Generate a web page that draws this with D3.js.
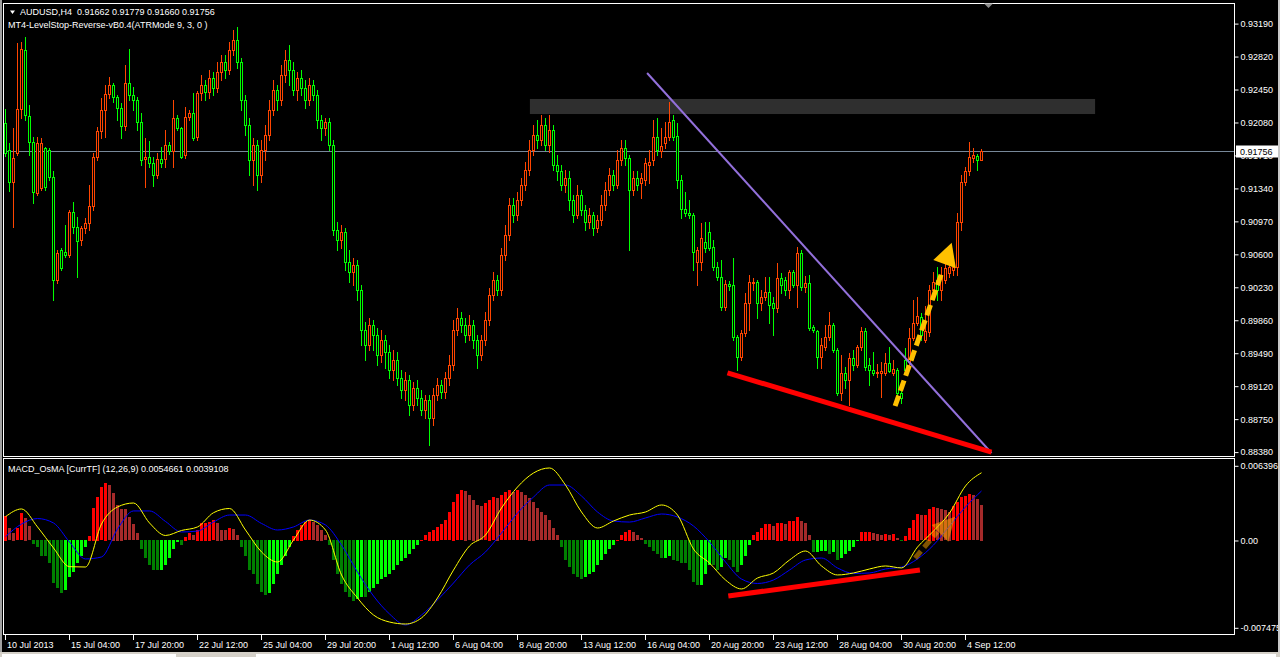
<!DOCTYPE html>
<html><head><meta charset="utf-8">
<script src="https://cdn.jsdelivr.net/npm/d3@7"></script>
<style>
html,body{margin:0;padding:0;background:#000;overflow:hidden;}
svg{display:block;}
text{font-family:"Liberation Sans",Arial,sans-serif;font-size:9px;fill:#fff;white-space:pre;}
</style></head><body>
<svg id="c" width="1280" height="657"></svg>
<script>
// ---------------- DATA ----------------
const symbol = "AUDUSD,H4";
const indicatorLabel = "MT4-LevelStop-Reverse-vB0.4(ATRMode 9, 3, 0 )";
const macdLabel = "MACD_OsMA [CurrTF] (12,26,9) 0.0054661 0.0039108";

const openP = [0.9207,0.9177,0.9141,0.9174,0.9223,0.9289,0.9215,0.9186,0.9129,0.9134,
0.9179,0.9177,0.9147,0.9031,0.9065,0.9063,0.9059,0.9108,0.9091,0.9076,
0.9090,0.9095,0.9114,0.9169,0.9198,0.9222,0.9240,0.9250,0.9237,0.9224,
0.9204,0.9252,0.9239,0.9233,0.9209,0.9167,0.9169,0.9162,0.9149,0.9167,
0.9167,0.9183,0.9176,0.9213,0.9202,0.9172,0.9214,0.9219,0.9192,0.9241,
0.9250,0.9242,0.9258,0.9247,0.9265,0.9276,0.9267,0.9289,0.9301,0.9276,
0.9233,0.9205,0.9166,0.9183,0.9149,0.9177,0.9194,0.9222,0.9245,0.9233,
0.9261,0.9278,0.9267,0.9245,0.9258,0.9247,0.9233,0.9250,0.9239,0.9211,
0.9202,0.9209,0.9183,0.9087,0.9076,0.9085,0.9051,0.9040,0.9048,0.9020,
0.8975,0.8958,0.8981,0.8970,0.8947,0.8964,0.8950,0.8930,0.8941,0.8921,
0.8908,0.8919,0.8891,0.8910,0.8899,0.8885,0.8897,0.8876,0.8902,0.8913,
0.8906,0.8921,0.8936,0.8975,0.8989,0.8981,0.8970,0.8981,0.8964,0.8947,
0.8964,0.8986,0.9014,0.9031,0.9020,0.9059,0.9082,0.9115,0.9104,0.9121,
0.9138,0.9155,0.9177,0.9194,0.9188,0.9205,0.9183,0.9200,0.9160,0.9153,
0.9138,0.9146,0.9121,0.9104,0.9127,0.9110,0.9096,0.9104,0.9090,0.9099,
0.9115,0.9132,0.9149,0.9138,0.9166,0.9179,0.9168,0.9132,0.9146,0.9140,
0.9143,0.9160,0.9166,0.9192,0.9176,0.9185,0.9192,0.9211,0.9193,0.9143,
0.9111,0.9106,0.9104,0.9051,0.9051,0.9074,0.9085,0.9068,0.9046,0.9035,
0.9001,0.9027,0.9026,0.8967,0.8945,0.8972,0.9005,0.9028,0.9029,0.9005,
0.9012,0.9018,0.9005,0.9000,0.9033,0.9031,0.9020,0.9040,0.9026,0.9062,
0.9023,0.9028,0.8978,0.8974,0.8945,0.8956,0.8967,0.8981,0.8953,0.8904,
0.8927,0.8919,0.8944,0.8936,0.8956,0.8974,0.8936,0.8930,0.8927,0.8927,
0.8927,0.8938,0.8927,0.8930,0.8904,0.8941,0.8939,0.8966,0.8983,0.8990,
0.8964,0.8973,0.9020,0.9031,0.9020,0.9031,0.9039,0.9042,0.9046,0.9096,
0.9141,0.9153,0.9168,0.9170,0.91662];
const highP = [0.9223,0.9185,0.9202,0.9297,0.9298,0.9304,0.9228,0.9192,0.9192,0.9191,
0.9180,0.9179,0.9153,0.9065,0.9067,0.9093,0.9110,0.9119,0.9102,0.9092,
0.9101,0.9138,0.9174,0.9203,0.9236,0.9250,0.9259,0.9252,0.9239,0.9230,
0.9273,0.9291,0.9248,0.9237,0.9219,0.9191,0.9187,0.9169,0.9174,0.9180,
0.9200,0.9186,0.9233,0.9216,0.9203,0.9225,0.9222,0.9241,0.9243,0.9261,
0.9256,0.9267,0.9265,0.9276,0.9284,0.9284,0.9298,0.9312,0.9315,0.9280,
0.9239,0.9213,0.9191,0.9188,0.9188,0.9205,0.9233,0.9256,0.9250,0.9273,
0.9289,0.9295,0.9276,0.9265,0.9267,0.9256,0.9258,0.9256,0.9245,0.9216,
0.9213,0.9213,0.9188,0.9096,0.9093,0.9090,0.9065,0.9056,0.9054,0.9026,
0.8984,0.8989,0.8986,0.8977,0.8975,0.8970,0.8958,0.8953,0.8950,0.8930,
0.8928,0.8925,0.8917,0.8919,0.8908,0.8902,0.8902,0.8910,0.8921,0.8919,
0.8928,0.8947,0.8986,0.9000,0.8995,0.8989,0.8992,0.8986,0.8970,0.8970,
0.8995,0.9022,0.9040,0.9037,0.9067,0.9093,0.9123,0.9123,0.9130,0.9146,
0.9164,0.9188,0.9205,0.9211,0.9216,0.9213,0.9216,0.9205,0.9172,0.9160,
0.9155,0.9153,0.9127,0.9138,0.9132,0.9115,0.9112,0.9108,0.9104,0.9127,
0.9141,0.9157,0.9155,0.9177,0.9188,0.9188,0.9172,0.9153,0.9153,0.9151,
0.9168,0.9177,0.9211,0.9213,0.9202,0.9209,0.9231,0.9216,0.9207,0.9149,
0.9130,0.9121,0.9106,0.9068,0.9095,0.9096,0.9096,0.9076,0.9051,0.9054,
0.9031,0.9030,0.9056,0.8970,0.8975,0.9017,0.9037,0.9033,0.9031,0.9020,
0.9035,0.9035,0.9012,0.9050,0.9039,0.9035,0.9042,0.9042,0.9068,0.9065,
0.9036,0.9037,0.8981,0.8975,0.8966,0.8981,0.8995,0.8983,0.8955,0.8947,
0.8934,0.8949,0.8953,0.8958,0.8978,0.8977,0.8944,0.8950,0.8937,0.8939,
0.8949,0.8956,0.8941,0.8932,0.8908,0.8955,0.8977,0.9009,0.9012,0.8994,
0.9002,0.9026,0.9040,0.9046,0.9046,0.9051,0.9056,0.9051,0.9106,0.9149,
0.9158,0.9186,0.9179,0.9173,0.91779];
const lowP = [0.9170,0.9131,0.9091,0.9172,0.9213,0.9211,0.9172,0.9118,0.9127,0.9132,
0.9132,0.9143,0.9009,0.9028,0.9042,0.9057,0.9057,0.9084,0.9035,0.9071,
0.9084,0.9087,0.9110,0.9166,0.9191,0.9192,0.9236,0.9231,0.9211,0.9191,
0.9200,0.9233,0.9222,0.9200,0.9160,0.9136,0.9158,0.9137,0.9146,0.9158,
0.9158,0.9173,0.9158,0.9200,0.9168,0.9168,0.9211,0.9188,0.9188,0.9233,
0.9233,0.9236,0.9239,0.9242,0.9256,0.9258,0.9262,0.9284,0.9269,0.9222,
0.9194,0.9149,0.9138,0.9132,0.9141,0.9166,0.9188,0.9216,0.9222,0.9228,
0.9254,0.9250,0.9239,0.9233,0.9239,0.9224,0.9228,0.9233,0.9202,0.9188,
0.9194,0.9177,0.9082,0.9065,0.9067,0.9042,0.9029,0.9026,0.9009,0.8958,
0.8941,0.8953,0.8953,0.8936,0.8939,0.8932,0.8921,0.8919,0.8913,0.8899,
0.8897,0.8880,0.8885,0.8891,0.8880,0.8876,0.8846,0.8868,0.8897,0.8899,
0.8899,0.8913,0.8930,0.8970,0.8973,0.8962,0.8964,0.8955,0.8932,0.8941,
0.8958,0.8981,0.9009,0.9014,0.9014,0.9054,0.9076,0.9096,0.9099,0.9115,
0.9132,0.9149,0.9172,0.9179,0.9183,0.9177,0.9175,0.9155,0.9143,0.9132,
0.9130,0.9110,0.9096,0.9101,0.9104,0.9087,0.9090,0.9082,0.9085,0.9093,
0.9110,0.9127,0.9132,0.9134,0.9160,0.9160,0.9065,0.9127,0.9132,0.9123,
0.9138,0.9140,0.9160,0.9172,0.9169,0.9179,0.9188,0.9188,0.9134,0.9101,
0.9103,0.9101,0.9042,0.9026,0.9042,0.9063,0.9065,0.9042,0.9031,0.8998,
0.8998,0.9020,0.8964,0.8930,0.8941,0.8968,0.8975,0.9020,0.8989,0.8998,
0.9009,0.8983,0.8970,0.8995,0.9017,0.9014,0.9011,0.9023,0.9001,0.9020,
0.9018,0.8975,0.8973,0.8932,0.8932,0.8953,0.8964,0.8950,0.8902,0.8897,
0.8910,0.8891,0.8930,0.8934,0.8953,0.8930,0.8913,0.8925,0.8922,0.8900,
0.8925,0.8928,0.8925,0.8900,0.8893,0.8928,0.8936,0.8964,0.8981,0.8964,
0.8962,0.8968,0.9014,0.9009,0.9009,0.9028,0.9035,0.9037,0.9037,0.9087,
0.9138,0.9149,0.9164,0.9155,0.91660];
const closeP = [0.9174,0.9141,0.9168,0.9223,0.9291,0.9216,0.9186,0.9130,0.9185,0.9185,
0.9136,0.9147,0.9031,0.9062,0.9045,0.9059,0.9108,0.9091,0.9075,0.9090,
0.9095,0.9114,0.9169,0.9198,0.9222,0.9240,0.9250,0.9237,0.9224,0.9204,
0.9252,0.9239,0.9233,0.9209,0.9166,0.9169,0.9162,0.9149,0.9167,0.9162,
0.9183,0.9176,0.9213,0.9202,0.9169,0.9214,0.9219,0.9191,0.9241,0.9250,
0.9242,0.9258,0.9247,0.9265,0.9276,0.9267,0.9289,0.9301,0.9276,0.9233,
0.9205,0.9166,0.9183,0.9149,0.9177,0.9194,0.9222,0.9245,0.9233,0.9261,
0.9278,0.9267,0.9245,0.9258,0.9247,0.9233,0.9250,0.9239,0.9211,0.9202,
0.9209,0.9183,0.9087,0.9076,0.9085,0.9051,0.9040,0.9048,0.9020,0.8975,
0.8958,0.8981,0.8970,0.8947,0.8964,0.8950,0.8930,0.8941,0.8921,0.8908,
0.8919,0.8891,0.8910,0.8899,0.8885,0.8897,0.8876,0.8902,0.8913,0.8906,
0.8921,0.8936,0.8975,0.8989,0.8981,0.8970,0.8981,0.8964,0.8947,0.8964,
0.8986,0.9014,0.9031,0.9020,0.9059,0.9082,0.9115,0.9104,0.9121,0.9138,
0.9155,0.9177,0.9194,0.9188,0.9205,0.9183,0.9200,0.9160,0.9153,0.9138,
0.9146,0.9121,0.9104,0.9127,0.9110,0.9096,0.9104,0.9090,0.9099,0.9115,
0.9132,0.9149,0.9138,0.9166,0.9179,0.9168,0.9132,0.9146,0.9138,0.9146,
0.9162,0.9164,0.9192,0.9177,0.9182,0.9192,0.9209,0.9192,0.9143,0.9111,
0.9106,0.9104,0.9063,0.9065,0.9078,0.9067,0.9067,0.9046,0.9035,0.9001,
0.9027,0.9025,0.8967,0.8945,0.8972,0.9005,0.9029,0.9029,0.9005,0.9012,
0.9018,0.9003,0.9000,0.9033,0.9026,0.9020,0.9040,0.9026,0.9062,0.9023,
0.9028,0.8977,0.8975,0.8945,0.8958,0.8967,0.8981,0.8953,0.8904,0.8927,
0.8919,0.8944,0.8936,0.8956,0.8974,0.8934,0.8930,0.8927,0.8928,0.8929,
0.8938,0.8929,0.8931,0.8904,0.8899,0.8930,0.8966,0.8983,0.8991,0.8970,
0.8974,0.9020,0.9029,0.9020,0.9037,0.9045,0.9046,0.9046,0.9096,0.9141,
0.9153,0.9169,0.9172,0.9166,0.91756];

// MACD_OsMA histogram, one value per bar
const osma = [0.00212,0.00107,0.00067,0.00107,0.00235,0.00193,0.00124,-0.0003,-0.00056,-0.00133,
-0.00141,-0.00193,-0.00364,-0.00415,-0.00458,-0.0043,-0.00321,-0.00278,-0.00201,-0.00133,
-0.00056,0.00039,0.00281,0.00375,0.00458,0.00495,0.00475,0.00409,0.00304,0.0027,
0.00269,0.00201,0.00141,0.00064,-0.00081,-0.00158,-0.0021,-0.00259,-0.0026,-0.00253,
-0.0021,-0.00158,-0.00073,-0.00021,-0.00039,0.0003,0.00064,0.00047,0.0009,0.0015,
0.00152,0.00161,0.00175,0.0015,0.0009,0.00089,0.00107,0.00098,0.00047,-0.00064,
-0.00141,-0.00253,-0.00295,-0.00381,-0.00441,-0.00475,-0.00458,-0.00381,-0.00295,-0.0021,
-0.00133,-0.00064,0.00039,0.0009,0.00133,0.00158,0.00175,0.00158,0.00133,0.0009,
0.00047,-0.00039,-0.00167,-0.00295,-0.00381,-0.00449,-0.00492,-0.00526,-0.00509,-0.00484,
-0.00492,-0.00441,-0.00407,-0.00381,-0.00338,-0.00321,-0.00295,-0.00253,-0.00218,-0.00184,
-0.0015,-0.00124,-0.00081,-0.00047,0.00004,0.00047,0.00073,0.0009,0.00116,0.00141,
0.00175,0.00244,0.0033,0.00398,0.00432,0.00424,0.00389,0.00347,0.00304,0.00295,
0.00321,0.00347,0.00372,0.00364,0.00389,0.00415,0.00432,0.00415,0.00432,0.00415,
0.00389,0.00364,0.0033,0.00278,0.00244,0.00218,0.00175,0.00107,0.00047,-0.00064,
-0.00167,-0.00235,-0.00295,-0.00321,-0.00338,-0.00321,-0.00295,-0.0027,-0.0021,-0.00167,
-0.00124,-0.00081,-0.00047,0.00004,0.00047,0.00073,0.0009,0.00073,0.00047,0.00021,
-0.0003,-0.00064,-0.00098,-0.00124,-0.0015,-0.0015,-0.00141,-0.00167,-0.00184,-0.00193,
-0.00201,-0.00253,-0.00361,-0.00389,-0.00389,-0.00287,-0.0021,-0.00218,-0.00259,-0.00227,
-0.00158,-0.00167,-0.00227,-0.00278,-0.00218,-0.00141,-0.00047,0.00047,0.00075,0.00107,
0.00141,0.00141,0.00124,0.00152,0.00152,0.00141,0.00167,0.00167,0.00204,0.00167,
0.00152,0.00047,-0.00107,-0.00107,-0.00098,-0.0009,-0.00116,-0.00107,-0.00167,-0.0015,
-0.00116,-0.00098,-0.00056,-0.00004,0.00075,0.00075,0.00075,0.00064,0.00056,0.00047,
0.00056,0.00047,0.00056,0.00021,-0.0001,0.00039,0.00107,0.00175,0.00227,0.00218,
0.00218,0.0027,0.00289,0.00278,0.0027,0.00261,0.00247,0.00295,0.00332,0.00372,
0.00381,0.00398,0.00389,0.00355,0.00304];

// MACD lines sampled every 4th bar
const lineBars = [0,4,8,12,16,20,24,28,32,36,40,44,48,52,56,60,64,68,72,76,80,84,88,92,96,100,104,108,112,116,120,124,128,132,136,140,144,148,152,156,160,164,168,172,176,180,184,188,192,196,200,204,208,212,216,220,224,228,232,236,240,244];
const macdMain = [0.00204,0.0027,0.00116,-0.00064,-0.00224,-0.00227,0.00141,0.00287,0.00321,0.0015,0.00043,0.00086,0.00116,0.00238,0.00274,0.0009,-0.00098,-0.00184,0.00004,0.00175,0.0009,-0.00295,-0.00492,-0.00638,-0.00698,-0.00715,-0.00663,-0.00492,-0.00253,-0.00047,0.00047,0.00278,0.00458,0.00578,0.00621,0.00475,0.00244,0.00107,0.00167,0.00218,0.00244,0.00304,0.00218,-0.00073,-0.00193,-0.00338,-0.00415,-0.00321,-0.00278,-0.00167,-0.0009,-0.00218,-0.00295,-0.00278,-0.00244,-0.00218,-0.00235,-0.00056,0.00081,0.00235,0.00467,0.0058];
const macdSignal = [0.00033,0.00141,0.00188,0.0015,-0.00013,-0.00158,-0.00141,0.00098,0.00253,0.00253,0.00163,0.00073,0.00081,0.00158,0.00218,0.00218,0.00146,0.0009,0.00116,0.00175,0.00133,-0.00039,-0.0027,-0.00475,-0.00629,-0.00723,-0.00638,-0.00509,-0.00364,-0.0021,-0.00098,0.00064,0.00235,0.00372,0.00475,0.00475,0.00381,0.00244,0.00167,0.00158,0.00193,0.00227,0.00201,0.00124,-0.00013,-0.00184,-0.0033,-0.00368,-0.00338,-0.00253,-0.00167,-0.0015,-0.00235,-0.00282,-0.00278,-0.00244,-0.00227,-0.00158,-0.00039,0.00124,0.00287,0.00424];

const timeTickBars = [0,16,32,48,64,80,96,112,128,144,160,176,192,208,224,240];
const timeLabels = ["10 Jul 2013","15 Jul 04:00","17 Jul 20:00","22 Jul 12:00","25 Jul 04:00","29 Jul 20:00","1 Aug 12:00","6 Aug 04:00","8 Aug 20:00","13 Aug 12:00","16 Aug 04:00","20 Aug 20:00","23 Aug 12:00","28 Aug 04:00","30 Aug 20:00","4 Sep 12:00"];
const priceTicks = [0.93190,0.92820,0.92450,0.92080,0.91710,0.91340,0.90970,0.90600,0.90230,0.89860,0.89490,0.89120,0.88750,0.88380];
const macdTicks = [0.0063961,0,-0.007475];
const macdTickLabels = ["0.0063961","0.00","-0.007475"];

// drawn annotations (bar index, value)
const zone = {b0:131.1, b1:272.4, top:0.92344, bottom:0.92175};
const purpleLine = [[160.4,0.92635],[246.5,0.8837]];
const redLine = [[180.5,0.8927],[246.5,0.8838]];
const yellowShaft = [[222.4,0.88898],[234.05,0.9039]];
const yellowHead = [[236.55,0.90731],[231.95,0.90536],[237.6,0.90443]];
const macdRedLine = [[180.7,-0.00475],[228.6,-0.00253]];
const macdShaft = [[227.4,-0.0015],[232.9,0.00073]];
const macdHead = [[231.55,0.00133],[237.4,0.00204],[235.7,-0.0001]];

// ---------------- DRAW ----------------
const svg = d3.select("#c");
const n = closeP.length;
const x = d3.scaleLinear().domain([0, n-1]).range([5.5, 981.5]);
const yP = d3.scaleLinear().domain([0.8838, 0.9319]).range([452.1, 23.6]);
const yM = d3.scaleLinear().domain([-0.007475, 0.0063961]).range([627.8, 465.8]);

svg.append("rect").attr("width",1280).attr("height",657).attr("fill","#000");

const defs = svg.append("defs");
defs.append("clipPath").attr("id","clipP").append("rect").attr("x",4).attr("y",4).attr("width",1230).attr("height",452);
defs.append("clipPath").attr("id","clipM").append("rect").attr("x",4).attr("y",459).attr("width",1230).attr("height",175);

const gP = svg.append("g").attr("clip-path","url(#clipP)");
gP.append("rect")
  .attr("x", x(zone.b0)).attr("width", x(zone.b1)-x(zone.b0))
  .attr("y", yP(zone.top)).attr("height", yP(zone.bottom)-yP(zone.top))
  .attr("fill","#2f2f2f");

const lastY = Math.round(yP(closeP[n-1]))+0.5;
gP.append("line").attr("x1",4).attr("x2",1235).attr("y1",lastY).attr("y2",lastY)
  .attr("stroke","#778899").attr("stroke-width",1);

const idx = d3.range(n);
const cCol = i => closeP[i] >= openP[i] ? "#ff4500" : "#00ff00";
const gC = gP.append("g").attr("shape-rendering","crispEdges");
gC.selectAll("line.w").data(idx).join("line").attr("class","w")
  .attr("x1",i=>x(i)).attr("x2",i=>x(i))
  .attr("y1",i=>Math.round(yP(highP[i]))).attr("y2",i=>Math.round(yP(lowP[i]))+1)
  .attr("stroke",cCol);
gC.selectAll("rect.b").data(idx).join("rect").attr("class","b")
  .attr("x",i=>x(i)-1).attr("width",2)
  .attr("y",i=>Math.round(yP(Math.max(openP[i],closeP[i])))+0.5)
  .attr("height",i=>Math.max(1, Math.round(yP(Math.min(openP[i],closeP[i])))-Math.round(yP(Math.max(openP[i],closeP[i])))))
  .attr("fill","#000").attr("stroke",cCol);

const seg = d3.line().x(d=>x(d[0])).y(d=>yP(d[1]));
gP.append("path").attr("d",seg(purpleLine)).attr("stroke","#9370db").attr("stroke-width",2).attr("fill","none");
gP.append("path").attr("d",seg(redLine)).attr("stroke","#ff0000").attr("stroke-width",5).attr("fill","none");
gP.append("path").attr("d",seg(yellowShaft)).attr("stroke","#ffc000").attr("stroke-width",5)
  .attr("stroke-dasharray","11,5").attr("fill","none");
gP.append("path").attr("d",seg(yellowHead)+"Z").attr("fill","#ffc000");

// MACD panel
const gM = svg.append("g").attr("clip-path","url(#clipM)");
const z0 = yM(0);
const hCol = i => {
  const v = osma[i], up = i===0 ? true : v >= osma[i-1];
  return v >= 0 ? (up ? "#ff0000" : "#a52a2a") : (up ? "#00ff00" : "#008000");
};
gM.append("g").attr("shape-rendering","crispEdges").selectAll("rect").data(idx).join("rect")
  .attr("x",i=>x(i)-1.5).attr("width",3)
  .attr("y",i=>Math.round(osma[i]>=0 ? yM(osma[i]) : z0))
  .attr("height",i=>Math.max(1, Math.round(Math.abs(yM(osma[i])-z0))))
  .attr("fill",hCol);
const ml = d3.line().x((d,k)=>x(lineBars[k])).y(d=>yM(d)).curve(d3.curveMonotoneX);
gM.append("path").attr("d",ml(macdSignal)).attr("stroke","#0000ff").attr("stroke-width",1).attr("fill","none");
gM.append("path").attr("d",ml(macdMain)).attr("stroke","#ffff00").attr("stroke-width",1).attr("fill","none");
const segM = d3.line().x(d=>x(d[0])).y(d=>yM(d[1]));
gM.append("path").attr("d",segM(macdRedLine)).attr("stroke","#ff0000").attr("stroke-width",5).attr("fill","none");
gM.append("path").attr("d",segM(macdShaft)).attr("stroke","rgba(255,165,0,0.5)").attr("stroke-width",5)
  .attr("stroke-dasharray","9,5").attr("fill","none");
gM.append("path").attr("d",segM(macdHead)+"Z").attr("fill","rgba(255,165,0,0.55)");

// frames
const fr = svg.append("g").attr("fill","none").attr("stroke","#fff").attr("shape-rendering","crispEdges");
fr.append("rect").attr("x",3.5).attr("y",3.5).attr("width",1231).attr("height",452.5);
fr.append("rect").attr("x",3.5).attr("y",458.5).attr("width",1231).attr("height",176);

// price axis
const ax = svg.append("g").attr("transform","translate(1234.5,0)")
  .call(d3.axisRight(yP).tickValues(priceTicks).tickFormat(d3.format(".5f")).tickSize(4).tickPadding(2));
ax.select(".domain").remove();
ax.selectAll("line").attr("stroke","#fff");
ax.selectAll("text").attr("fill","#fff").style("font-size","9px").attr("font-family",null);

// current price box (covers the 0.91710 label, as in the terminal)
const cp = svg.append("g");
cp.append("rect").attr("x",1236).attr("y",lastY-6).attr("width",42).attr("height",12).attr("fill","#fff");
cp.append("text").attr("x",1240).attr("y",lastY+3.5).text(d3.format(".5f")(closeP[n-1])).style("fill","#000");

// macd axis
const axM = svg.append("g").attr("transform","translate(1234.5,0)")
  .call(d3.axisRight(yM).tickValues(macdTicks).tickFormat((d,i)=>macdTickLabels[i]).tickSize(4).tickPadding(2));
axM.select(".domain").remove();
axM.selectAll("line").attr("stroke","#fff");
axM.selectAll("text").attr("fill","#fff").style("font-size","9px");

// time axis
const axT = svg.append("g").attr("transform","translate(0,634.5)")
  .call(d3.axisBottom(x).tickValues(timeTickBars).tickFormat((d,i)=>timeLabels[i]).tickSize(5));
axT.select(".domain").remove();
axT.selectAll("line").attr("stroke","#fff").attr("shape-rendering","crispEdges").attr("transform","translate(-1,0)");
axT.selectAll("text").attr("fill","#fff").style("font-size","9px").attr("text-anchor","start")
  .attr("x",1).attr("y",13).attr("dy",null);

// header texts
svg.append("path").attr("d","M10,10.5 L15,10.5 L12.5,14 Z").attr("fill","#fff");
svg.append("text").attr("x",20).attr("y",15)
  .text(`${symbol}  ${openP[n-1].toFixed(5)} ${highP[n-1].toFixed(5)} ${lowP[n-1].toFixed(5)} ${closeP[n-1].toFixed(5)}`);
svg.append("text").attr("x",8).attr("y",27.5).text(indicatorLabel);
svg.append("text").attr("x",8).attr("y",472).text(macdLabel);

// chart-shift marker
svg.append("path").attr("d","M984,3.5 L993,3.5 L988.5,8 Z").attr("fill","#8c8c8c");

// window chrome
svg.append("rect").attr("x",0).attr("y",0).attr("width",2).attr("height",657).attr("fill","#a0a0a0");
svg.append("rect").attr("x",1278).attr("y",0).attr("width",2).attr("height",657).attr("fill","#c8c8c8");
svg.append("rect").attr("x",0).attr("y",652).attr("width",1280).attr("height",5).attr("fill","#d4d0c8");
svg.append("rect").attr("x",2).attr("y",654).attr("width",174).attr("height",3).attr("fill","#fff");
svg.append("rect").attr("x",256).attr("y",654).attr("width",1020).attr("height",3).attr("fill","#fff");
</script>
</body></html>
